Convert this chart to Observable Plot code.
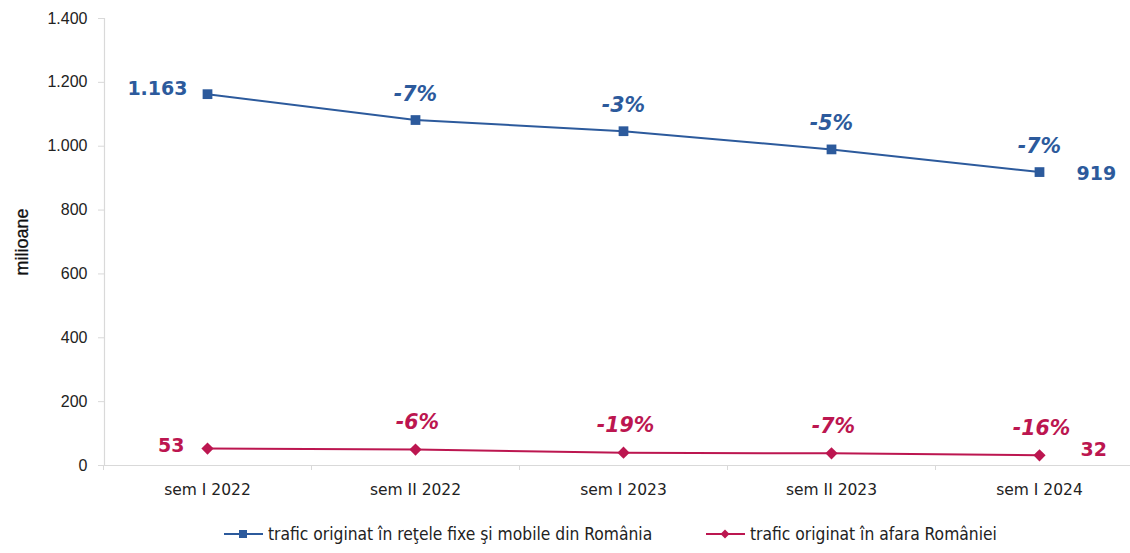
<!DOCTYPE html>
<html>
<head>
<meta charset="utf-8">
<script src="https://cdn.jsdelivr.net/npm/d3@7"></script>
<script src="https://cdn.jsdelivr.net/npm/@observablehq/plot@0.6"></script>
<style>
  html, body { margin: 0; padding: 0; background: #fff; }
  #chart { width: 1130px; }
  .legend { display: flex; align-items: center; height: 38px; font-family: "Liberation Sans Narrow", "DejaVu Sans Condensed", sans-serif; font-size: 17.3px; color: #222; }
  .legend .item { display: flex; align-items: center; position: absolute; }
  .legend svg { margin-right: 5px; }
</style>
</head>
<body>
<div id="chart"></div>
<script>
const categories = ["sem I 2022", "sem II 2022", "sem I 2023", "sem II 2023", "sem I 2024"];
const romaniaValues = [1163, 1082, 1047, 990, 919];
const abroadValues = [53, 50, 40, 38, 32];
const romaniaPct = ["", "-7%", "-3%", "-5%", "-7%"];
const abroadPct = ["", "-6%", "-19%", "-7%", "-16%"];
const yTicks = [0, 200, 400, 600, 800, 1000, 1200, 1400];
const seriesNames = ["trafic originat în reţele fixe şi mobile din România", "trafic originat în afara României"];

const BLUE = "#2C5A9C";
const RED = "#BC1650";
const AXIS = "#d9d9d9";

const fmt = d3.formatLocale({decimal: ",", thousands: ".", grouping: [3], currency: ["", ""]}).format(",");

const idx = categories.map((_, i) => i);
const blue = idx.map(i => ({i, v: romaniaValues[i], pct: romaniaPct[i]}));
const red = idx.map(i => ({i, v: abroadValues[i], pct: abroadPct[i]}));
const boundaries = d3.range(-0.5, categories.length + 0.5, 1);

const plot = Plot.plot({
  width: 1130,
  height: 515,
  marginLeft: 104,
  marginRight: 0,
  marginTop: 18,
  marginBottom: 50,
  style: {fontFamily: "DejaVu Sans, sans-serif", background: "#fff"},
  x: {type: "linear", domain: [-0.5, categories.length - 0.5], range: [103, 1143]},
  y: {domain: [0, 1400]},
  marks: [
    // y axis line
    Plot.ruleX([0], {x: -0.5, y1: 0, y2: 1400, stroke: AXIS, strokeWidth: 1.2, dx: 1}),
    Plot.axisY({ticks: yTicks, tickSize: 6, tickPadding: 11, tickFormat: fmt, stroke: AXIS,
      fontSize: 16, fontFamily: "Liberation Sans, Arial, sans-serif", fill: "#222", label: null}),
    // x axis
    Plot.ruleY([0], {stroke: AXIS, strokeWidth: 1.2}),
    Plot.axisX({ticks: boundaries, tickSize: 5, tickFormat: () => "", stroke: AXIS, label: null}),
    Plot.axisX({ticks: idx, tickSize: 0, tickPadding: 18, tickFormat: i => categories[i],
      fontSize: 15.5, fill: "#222", label: null}),
    // y label
    Plot.text(["milioane"], {frameAnchor: "left", textAnchor: "middle", dx: -82, rotate: -90, fontSize: 18,
      fontFamily: "Liberation Sans, Arial, sans-serif", fill: "#111", stroke: "#111", strokeWidth: 0.3}),
    // lines
    Plot.line(blue, {x: "i", y: "v", stroke: BLUE, strokeWidth: 2}),
    Plot.dot(blue, {x: "i", y: "v", symbol: "square", r: 5.5, fill: BLUE, stroke: null}),
    Plot.line(red, {x: "i", y: "v", stroke: RED, strokeWidth: 2}),
    Plot.dot(red, {x: "i", y: "v", symbol: "diamond2", r: 5.5, fill: RED, stroke: null}),
    // value labels
    Plot.text([blue[0]], {x: "i", y: "v", text: d => fmt(d.v), textAnchor: "end", dx: -20, dy: -5,
      fill: BLUE, fontWeight: "bold", fontSize: 19}),
    Plot.text([blue[blue.length - 1]], {x: "i", y: "v", text: d => fmt(d.v), textAnchor: "start", dx: 37, dy: 2,
      fill: BLUE, fontWeight: "bold", fontSize: 19}),
    Plot.text([red[0]], {x: "i", y: "v", text: d => fmt(d.v), textAnchor: "end", dx: -23, dy: -3,
      fill: RED, fontWeight: "bold", fontSize: 19}),
    Plot.text([red[red.length - 1]], {x: "i", y: "v", text: d => fmt(d.v), textAnchor: "start", dx: 41, dy: -5,
      fill: RED, fontWeight: "bold", fontSize: 19}),
    // percent labels
    Plot.text(blue.slice(1), {x: "i", y: "v", text: "pct", dy: -26, fill: BLUE, fontWeight: "bold",
      fontStyle: "italic", fontSize: 20.5}),
    Plot.text(red.slice(1), {x: "i", y: "v", text: "pct", dy: -27, dx: 2, fill: RED, fontWeight: "bold",
      fontStyle: "italic", fontSize: 20.5})
  ]
});

const chart = document.getElementById("chart");
chart.appendChild(plot);

const legend = document.createElement("div");
legend.className = "legend";
legend.style.position = "relative";
const items = [
  {name: seriesNames[0], color: BLUE, left: 224, shape: "square"},
  {name: seriesNames[1], color: RED, left: 706, shape: "diamond"}
];
for (const it of items) {
  const el = document.createElement("div");
  el.className = "item";
  el.style.left = it.left + "px";
  const marker = it.shape === "square"
    ? `<rect x="15" y="3" width="8" height="8" fill="${it.color}"/>`
    : `<path d="M19 2.5 L23.5 7 L19 11.5 L14.5 7 Z" fill="${it.color}"/>`;
  el.innerHTML = `<svg width="39" height="14"><line x1="0" y1="7" x2="39" y2="7" stroke="${it.color}" stroke-width="2"/>${marker}</svg><span>${it.name}</span>`;
  legend.appendChild(el);
}
chart.appendChild(legend);
</script>
</body>
</html>
